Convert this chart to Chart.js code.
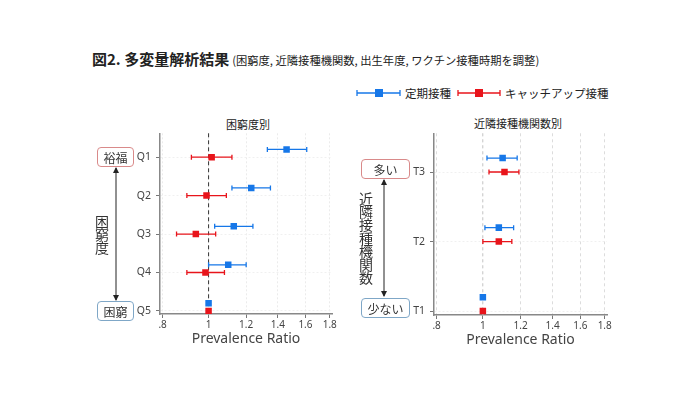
<!DOCTYPE html>
<html><head><meta charset="utf-8">
<script src="https://cdn.jsdelivr.net/npm/chart.js@4.4.1/dist/chart.umd.min.js"></script>
<style>
body{margin:0;width:700px;height:394px;background:#fff;position:relative;overflow:hidden;font-family:"Noto Sans CJK JP","Noto Sans",sans-serif;color:#222}
.abs{position:absolute;white-space:nowrap}
.box{position:absolute;box-sizing:border-box;border:1px solid;border-radius:4px;background:#fff;font-size:12px;color:#333;display:flex;align-items:center;justify-content:center}
.vt{position:absolute;font-size:14px;line-height:13.2px;width:16px;text-align:center;color:#333;white-space:normal}
canvas{position:absolute}
</style></head>
<body>
<div class="abs" style="left:92px;top:48px;font-size:15px;font-weight:bold;color:#222">図2. 多変量解析結果<span style="font-size:11.3px;font-weight:normal;margin-left:3px">(困窮度, 近隣接種機関数, 出生年度, ワクチン接種時期を調整)</span></div>

<!-- legend -->
<svg class="abs" style="left:350px;top:84px" width="260" height="18">
  <line x1="7" y1="9" x2="50" y2="9" stroke="#1677e8" stroke-width="1.3"/>
  <line x1="7" y1="6" x2="7" y2="12" stroke="#1677e8" stroke-width="1.3"/>
  <line x1="50" y1="6" x2="50" y2="12" stroke="#1677e8" stroke-width="1.3"/>
  <rect x="25" y="5" width="8" height="8" fill="#1677e8"/>
  <line x1="108" y1="9" x2="150" y2="9" stroke="#e8141b" stroke-width="1.3"/>
  <line x1="108" y1="6" x2="108" y2="12" stroke="#e8141b" stroke-width="1.3"/>
  <line x1="150" y1="6" x2="150" y2="12" stroke="#e8141b" stroke-width="1.3"/>
  <rect x="125" y="5" width="8" height="8" fill="#e8141b"/>
</svg>
<div class="abs" style="left:405px;top:85px;font-size:11.5px;color:#222">定期接種</div>
<div class="abs" style="left:505px;top:85px;font-size:11.5px;color:#222">キャッチアップ接種</div>

<div class="abs" style="left:226px;top:116px;font-size:11px;color:#222">困窮度別</div>
<div class="abs" style="left:474px;top:115px;font-size:11px;color:#222">近隣接種機関数別</div>

<canvas id="c1" width="240" height="225" style="left:100px;top:122px"></canvas>
<canvas id="c2" width="240" height="226" style="left:374px;top:122px"></canvas>

<!-- left annotations -->
<svg class="abs" style="left:100px;top:160px" width="30" height="150">
  <line x1="16" y1="8" x2="16" y2="140" stroke="#222" stroke-width="1"/>
  <path d="M13,13 L16,7 L19,13 Z" fill="#222"/>
  <path d="M13,135 L16,141 L19,135 Z" fill="#222"/>
</svg>
<div class="box" style="left:97px;top:147px;width:37px;height:20px;border-color:#d98a8a">裕福</div>
<div class="box" style="left:97px;top:301px;width:37px;height:20px;border-color:#7fa7c7">困窮</div>
<div class="vt" style="left:94px;top:215px;background:#fff">困窮度</div>

<!-- right annotations -->
<svg class="abs" style="left:370px;top:172px" width="30" height="132">
  <line x1="14" y1="8" x2="14" y2="124" stroke="#222" stroke-width="1"/>
  <path d="M11,13 L14,7 L17,13 Z" fill="#222"/>
  <path d="M11,119 L14,125 L17,119 Z" fill="#222"/>
</svg>
<div class="box" style="left:361px;top:159px;width:49px;height:20px;border-color:#d98a8a">多い</div>
<div class="box" style="left:361px;top:298px;width:49px;height:20px;border-color:#7fa7c7">少ない</div>
<div class="vt" style="left:358px;top:192px;background:#fff">近隣接種機関数</div>

<script>
// ---- data ----
const catsA = ['Q1','Q2','Q3','Q4','Q5'];
const teikiA    = [1.46, 1.23, 1.13, 1.10, 1.00];
const teikiA_lo = [1.33, 1.12, 1.03, 1.00, 1.00];
const teikiA_hi = [1.61, 1.35, 1.24, 1.20, 1.00];
const catchA    = [1.015, 0.99, 0.94, 0.985, 1.00];
const catchA_lo = [0.92, 0.90, 0.856, 0.90, 1.00];
const catchA_hi = [1.12, 1.09, 1.035, 1.08, 1.00];

const catsB = ['T3','T2','T1'];
const teikiB    = [1.10, 1.08, 1.00];
const teikiB_lo = [1.02, 1.01, 1.00];
const teikiB_hi = [1.18, 1.16, 1.00];
const catchB    = [1.11, 1.08, 1.00];
const catchB_lo = [1.03, 1.00, 1.00];
const catchB_hi = [1.19, 1.15, 1.00];

const xTicks = [0.8, 1, 1.2, 1.4, 1.6, 1.8];
const seriesNames = ['定期接種', 'キャッチアップ接種'];

const BLUE = '#1677e8', RED = '#e8141b';

const errPlugin = {
  id: 'errbars',
  beforeDatasetsDraw(chart, args, opts) {
    const ctx = chart.ctx, xs = chart.scales.x, ys = chart.scales.y, a = chart.chartArea;
    ctx.save();
    const rx = xs.getPixelForValue(1);
    ctx.strokeStyle = opts.refColor; ctx.lineWidth = opts.refWidth; ctx.setLineDash(opts.refDash);
    ctx.beginPath(); ctx.moveTo(rx, a.top); ctx.lineTo(rx, a.bottom); ctx.stroke();
    ctx.setLineDash([]);
    chart.data.datasets.forEach(ds => {
      ctx.strokeStyle = ds.borderColor; ctx.lineWidth = 1.3;
      ds.data.forEach((p, i) => {
        const lo = ds.lo[i], hi = ds.hi[i];
        if (lo === hi) return;
        const x1 = xs.getPixelForValue(lo), x2 = xs.getPixelForValue(hi), y = ys.getPixelForValue(p.y);
        ctx.beginPath();
        ctx.moveTo(x1, y); ctx.lineTo(x2, y);
        ctx.moveTo(x1, y - 2.5); ctx.lineTo(x1, y + 2.5);
        ctx.moveTo(x2, y - 2.5); ctx.lineTo(x2, y + 2.5);
        ctx.stroke();
      });
    });
    ctx.restore();
  }
};

function makeChart(id, cats, tv, tlo, thi, cv, clo, chi, yMin, yMax, pad, gridStyle, ref) {
  const mk = (vals, off) => vals.map((v, i) => ({x: v, y: i + 1 + off}));
  return new Chart(document.getElementById(id), {
    type: 'scatter',
    data: {
      datasets: [
        {label: seriesNames[0], data: mk(tv, -0.2), lo: tlo, hi: thi, backgroundColor: BLUE, borderColor: BLUE,
         pointStyle: 'rect', pointRadius: 4.6, borderWidth: 0},
        {label: seriesNames[1], data: mk(cv, 0), lo: clo, hi: chi, backgroundColor: RED, borderColor: RED,
         pointStyle: 'rect', pointRadius: 4.6, borderWidth: 0}
      ]
    },
    options: {
      responsive: false, animation: false,
      layout: {padding: {top: 10, right: pad, left: 0, bottom: 0}},
      plugins: {legend: {display: false}, tooltip: {enabled: false}, errbars: ref},
      scales: {
        x: {
          type: 'logarithmic', min: 0.79, max: 1.82,
          afterBuildTicks: s => { s.ticks = xTicks.map(v => ({value: v})); },
          afterFit: s => { s.height = 33; },
          ticks: {callback: v => v === 0.8 ? '.8' : String(v), font: {family: '"Noto Sans", sans-serif', size: 10}, color: '#444', padding: 1, maxRotation: 0, autoSkip: false},
          grid: {color: gridStyle.color, tickColor: '#777', tickLength: 4},
          border: {color: '#888', width: 1.5, dash: gridStyle.dash},
          title: {display: true, text: 'Prevalence Ratio', font: {family: '"Noto Sans", sans-serif', size: 14}, color: '#444', padding: 0}
        },
        y: {
          type: 'linear', reverse: true, min: yMin, max: yMax,
          afterBuildTicks: s => { s.ticks = cats.map((c, i) => ({value: i + 1})); },
          afterFit: s => { s.width = 60; },
          ticks: {callback: v => cats[v - 1], font: {family: '"Noto Sans", sans-serif', size: 10.5}, color: '#444', padding: 5, autoSkip: false},
          grid: {color: '#f0f0f0', tickColor: '#777', tickLength: 4},
          border: {color: '#888', width: 1.5, dash: [2, 2]}
        }
      }
    },
    plugins: [errPlugin]
  });
}

Chart.defaults.font.family = '"Noto Sans", sans-serif';
makeChart('c1', catsA, teikiA, teikiA_lo, teikiA_hi, catchA, catchA_lo, catchA_hi, 0.38, 5.08, 8,
  {color: '#ebebeb', dash: [2, 2]}, {refColor: '#333', refWidth: 1, refDash: [4, 3]});
makeChart('c2', catsB, teikiB, teikiB_lo, teikiB_hi, catchB, catchB_lo, catchB_hi, 0.443, 3.057, 7,
  {color: '#dcdcdc', dash: [3, 3]}, {refColor: '#d0d0d0', refWidth: 1, refDash: [3, 3]});
</script>
</body></html>
